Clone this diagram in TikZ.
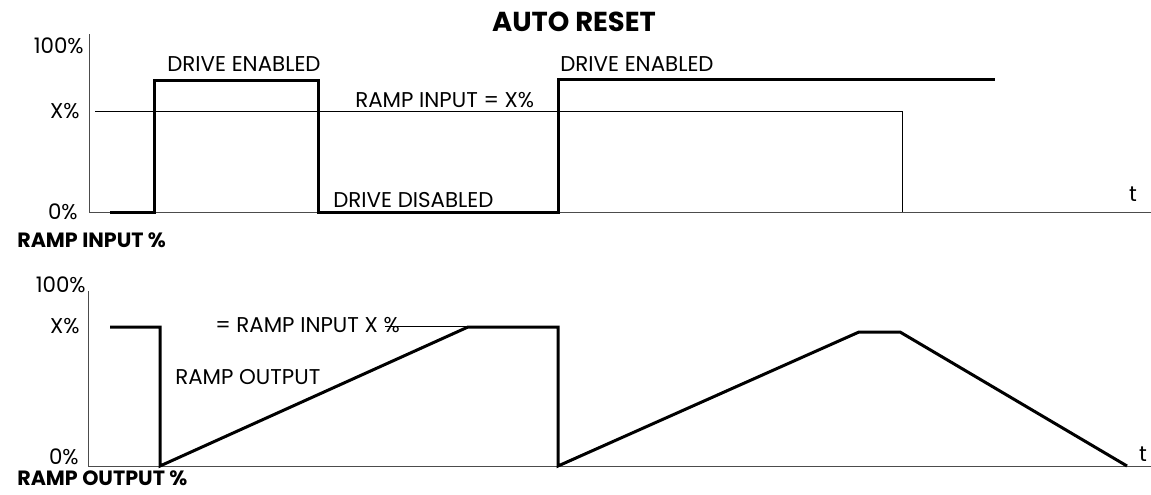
\documentclass[tikz,border=0pt]{standalone}
\usepackage{fontspec}
\setmainfont{Poppins}
\usetikzlibrary{positioning}

\begin{document}
\begin{tikzpicture}[
  x=0.025cm, y=-0.025cm,
  lbl/.style={inner sep=0pt, font=\fontsize{15.2}{17}\selectfont},
  heading/.style={inner sep=0pt, font=\fontsize{14.7}{16}\selectfont\bfseries},
  title/.style={inner sep=0pt, font=\fontsize{19.5}{22}\selectfont\bfseries},
  axis/.style={line width=0.025cm, black!70},
  level/.style={line width=0.025cm, black},
  signal/.style={line width=0.075cm, black, line join=miter}
]
\useasboundingbox (0,0) rectangle (1151,494);

\node[title, anchor=base] (title) at (574,31) {AUTO RESET};

% ramp input
\draw[axis] (89,34) -- (89,212) -- (1151,212);
\draw[level] (95,111) -- (902,111) -- (902,212);
\draw[signal] (110,212) -- (154,212) -- (154,80) -- (318,80) -- (318,212)
  -- (558,212) -- (558,79) -- (995,79);

\node[lbl, anchor=base east] (inhundred) at (84,53) {100\%};
\node[lbl, anchor=base east] (inx) at (80,118) {X\%};
\node[lbl, anchor=base east] (inzero) at (78,219) {0\%};
\node[lbl, anchor=base west] (enabled1) at (167,71) {DRIVE ENABLED};
\node[lbl, anchor=base west] (enabled2) at (560,71) {DRIVE ENABLED};
\node[lbl, anchor=base west] (inlevel) at (355,107) {RAMP INPUT = X\%};
\node[lbl, anchor=base west] (disabled) at (333,207) {DRIVE DISABLED};
\node[lbl, anchor=base] (tin) at (1133,201) {t};
\node[heading, anchor=base west] (inname) at (17,247) {RAMP INPUT \%};

% ramp output
\draw[axis] (88,291) -- (88,466) -- (1151,466);
\draw[level] (385,326) -- (468,326);
\draw[signal] (110,327) -- (160,327) -- (160,466) -- (468,327) -- (558,327)
  -- (558,466) -- (859,332) -- (900,332) -- (1127,466);

\node[lbl, anchor=base east] (outhundred) at (86,292) {100\%};
\node[lbl, anchor=base east] (outx) at (80,333) {X\%};
\node[lbl, anchor=base east] (outzero) at (79,464) {0\%};
\node[lbl, anchor=base west] (outlevel) at (215,332) {= RAMP INPUT X \%};
\node[lbl, anchor=base west] (outcurve) at (175,384) {RAMP OUTPUT};
\node[lbl, anchor=base] (tout) at (1143,461) {t};
\node[heading, anchor=base west] (outname) at (17,485) {RAMP OUTPUT \%};

\end{tikzpicture}
\end{document}
